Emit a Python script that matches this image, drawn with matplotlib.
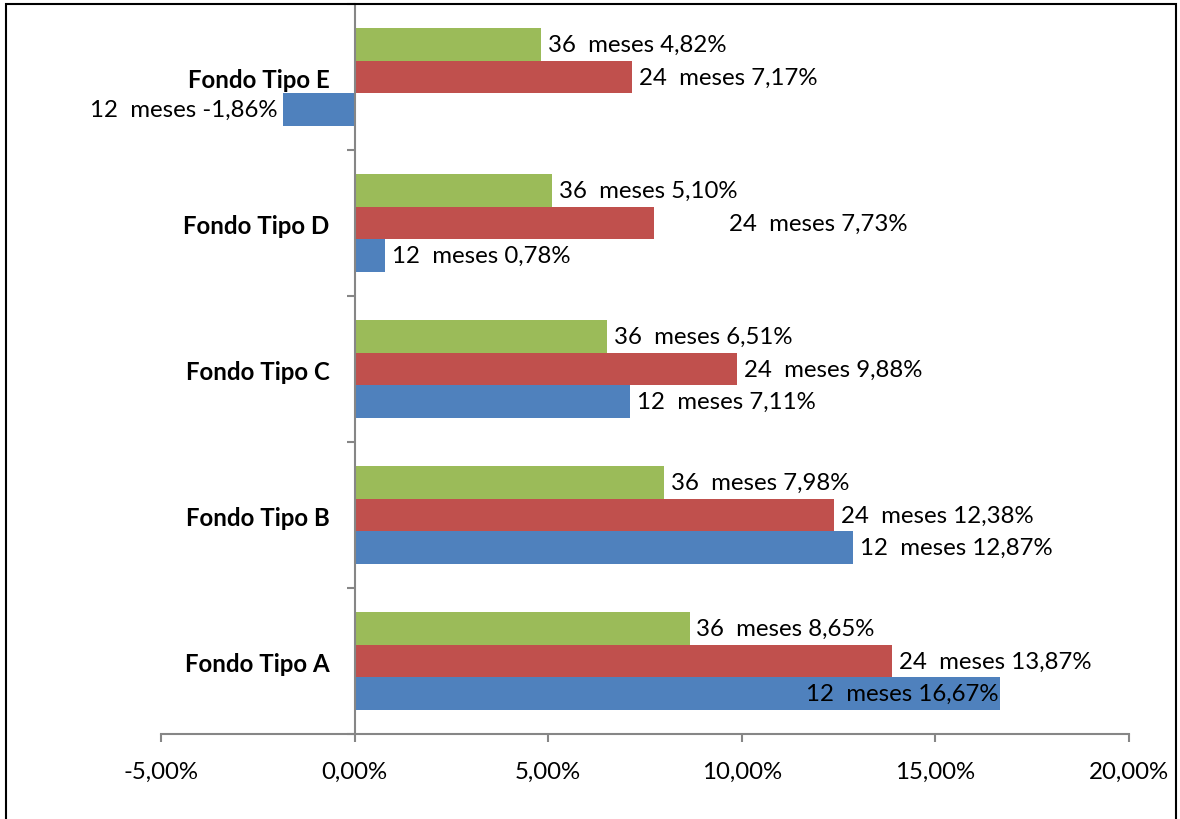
import matplotlib
matplotlib.use('Agg')
import matplotlib.pyplot as plt
from matplotlib.patches import Rectangle
import numpy as np

plt.rcParams['font.family'] = ['Lato', 'DejaVu Sans']

fondos = ['Fondo Tipo A', 'Fondo Tipo B', 'Fondo Tipo C', 'Fondo Tipo D', 'Fondo Tipo E']
series = ['12  meses', '24  meses', '36  meses']
r12 = [16.67, 12.87, 7.11, 0.78, -1.86]
r24 = [13.87, 12.38, 9.88, 7.73, 7.17]
r36 = [8.65, 7.98, 6.51, 5.10, 4.82]
colores = ['#4F81BD', '#C0504D', '#9BBB59']
xticks = [-5, 0, 5, 10, 15, 20]


def pct(v):
    return f"{v:.2f}".replace('.', ',') + '%'


fig = plt.figure(figsize=(11.8, 8.2), dpi=100)
ax = fig.add_axes([161 / 1180, 1 - 735 / 820, (1129 - 161) / 1180, 730 / 820])

y = np.arange(len(fondos))
h = 0.2215
fs = 17.3
for k, (vals, col, nombre) in enumerate(zip([r12, r24, r36], colores, series)):
    pos = y + (k - 1) * h
    ax.barh(pos, vals, height=h, color=col, edgecolor='none', zorder=2)
    for i, v in enumerate(vals):
        txt = f"{nombre} {pct(v)}"
        if v < 0:
            ax.annotate(txt, (v, pos[i]), xytext=(-4, 0), textcoords='offset points',
                        ha='right', va='center', fontsize=fs)
        elif k == 0 and i == 0:
            # etiqueta dentro de la barra
            ax.annotate(txt, (v, pos[i]), xytext=(-1, 0), textcoords='offset points',
                        ha='right', va='center', fontsize=fs)
        elif k == 1 and i == 3:
            ax.annotate(txt, (v, pos[i]), xytext=(54, 0), textcoords='offset points',
                        ha='left', va='center', fontsize=fs)
        else:
            ax.annotate(txt, (v, pos[i]), xytext=(5, 0), textcoords='offset points',
                        ha='left', va='center', fontsize=fs)

ax.set_xlim(-5, 20)
ax.set_ylim(-0.5, len(fondos) - 0.5)

ax.spines['top'].set_visible(False)
ax.spines['right'].set_visible(False)
ax.spines['left'].set_position(('data', 0))
for s in ['left', 'bottom']:
    ax.spines[s].set_color('#868686')
    ax.spines[s].set_linewidth(1.5)

ax.set_xticks(xticks)
ax.set_xticklabels([pct(t) for t in xticks], fontsize=fs)
ax.tick_params(axis='x', direction='out', length=6, width=1.5, color='#868686', pad=13)

ax.set_yticks(np.arange(len(fondos) + 1) - 0.5)
ax.set_yticklabels([])
ax.set_yticks(y, minor=True)
ax.set_yticklabels(fondos, minor=True, fontsize=fs, fontweight='bold')
ax.tick_params(axis='y', which='major', direction='out', length=6, width=1.5, color='#868686')
ax.tick_params(axis='y', which='minor', length=0, pad=18)

# marco exterior
fig.patches.append(Rectangle((6 / 1180, -0.05), 1170 / 1180, 1.05 - 5 / 820, transform=fig.transFigure,
                             fill=False, edgecolor='black', linewidth=1.5))

fig.savefig('out.png', dpi=100)
